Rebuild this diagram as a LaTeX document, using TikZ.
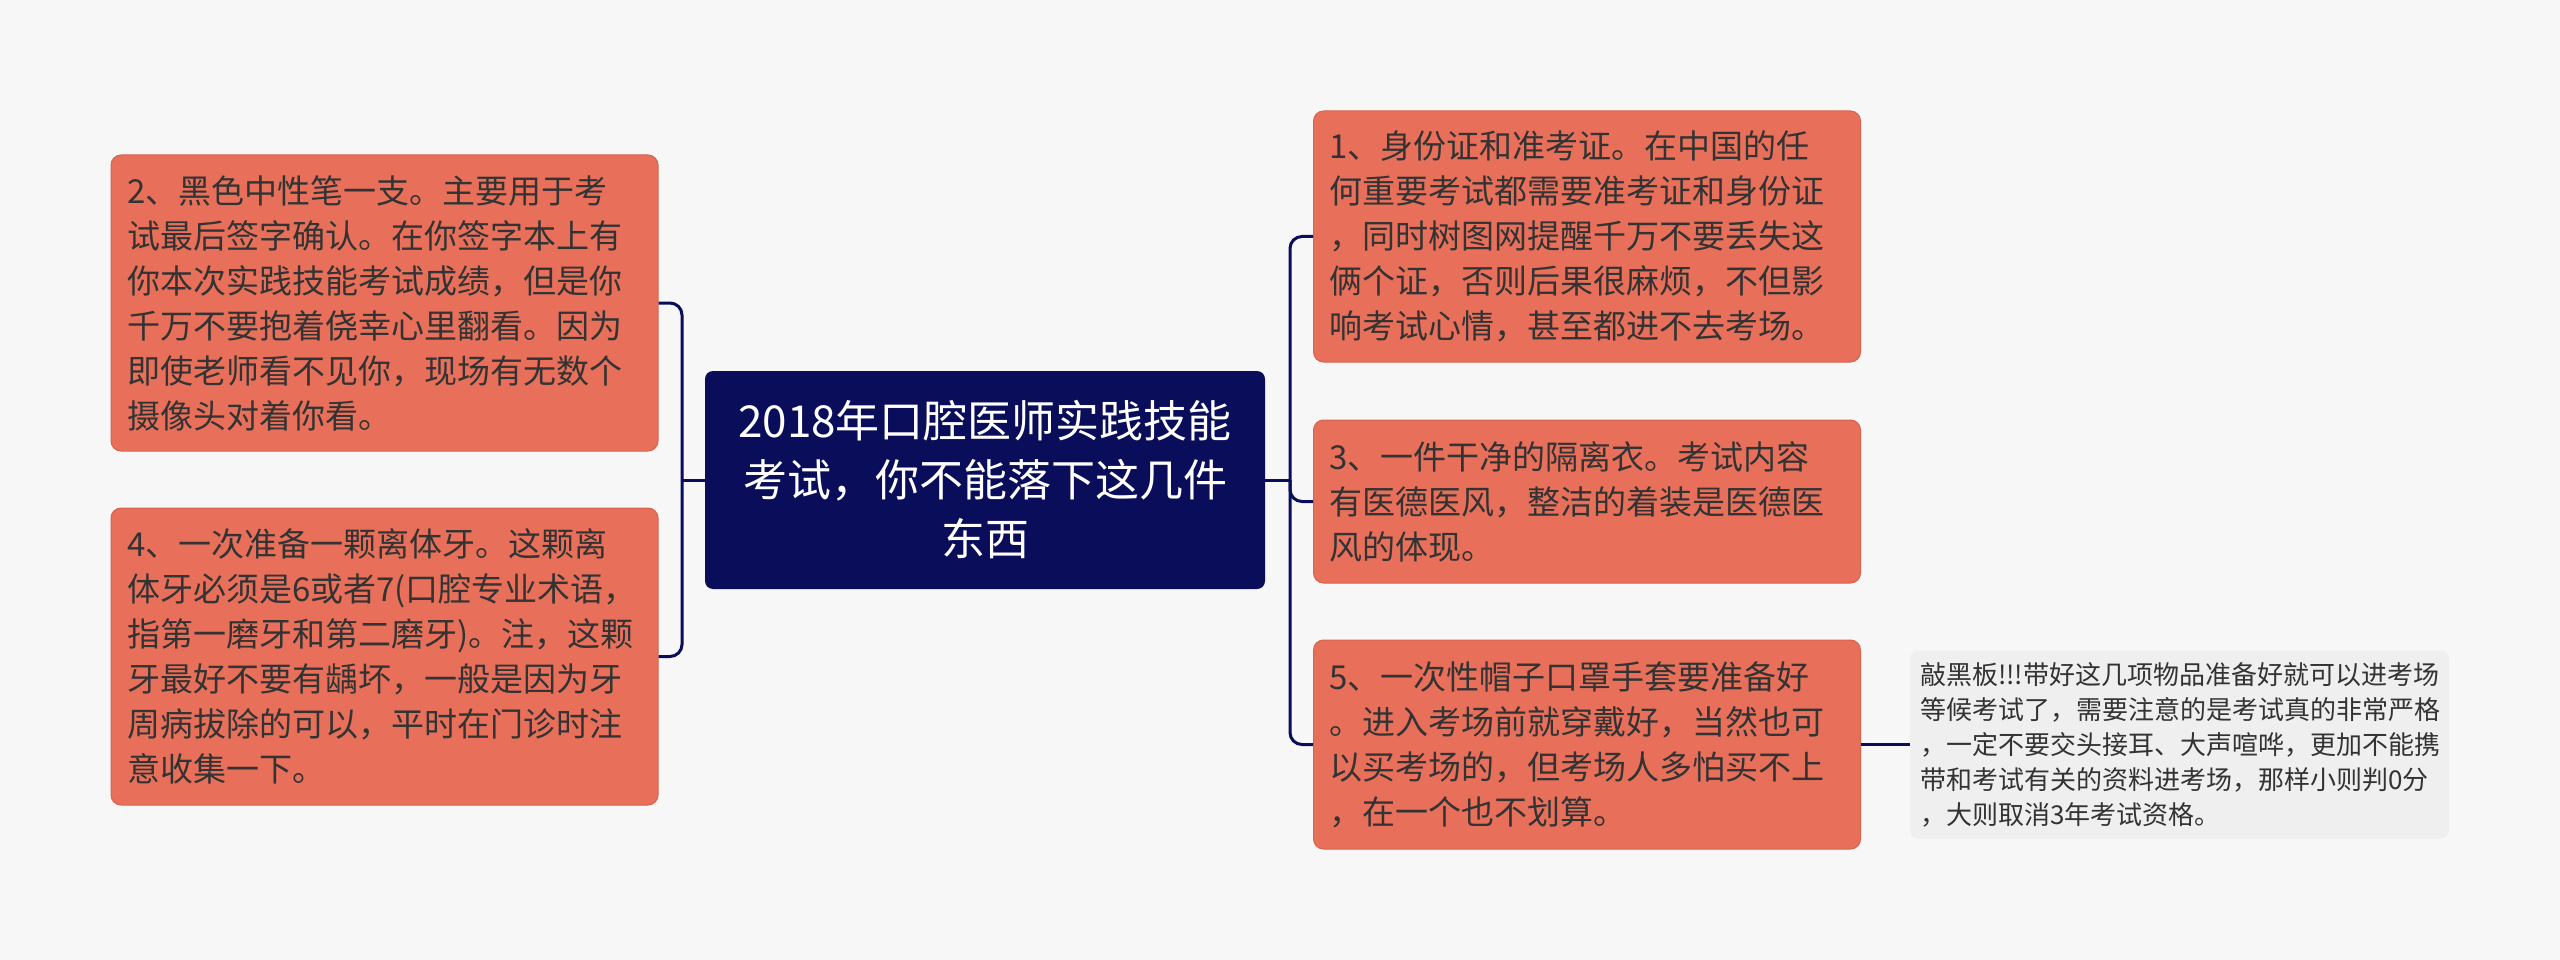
\documentclass[tikz,border=0pt]{standalone}
\usepackage{fontspec}
\setmainfont{Noto Sans CJK SC}
\usetikzlibrary{calc}
\definecolor{bg}{HTML}{F7F7F7}
\definecolor{orangebox}{HTML}{E8705B}
\definecolor{orangeline}{HTML}{D8624E}
\definecolor{navy}{HTML}{0A0D5A}
\definecolor{txt}{HTML}{333333}
\definecolor{notebg}{HTML}{EFEFEF}
\begin{document}
\begin{tikzpicture}[x=1pt,y=-1pt,
  topic/.style={draw=orangeline, line width=1pt, fill=orangebox, rounded corners=10pt,
    text=txt, align=left, inner xsep=16pt, inner ysep=0pt,
    font=\fontsize{33}{45}\selectfont, text width=515pt, minimum width=547pt},
  central/.style={fill=navy, rounded corners=8pt, text=white, align=center,
    inner xsep=16pt, inner ysep=0pt, font=\fontsize{44}{59}\selectfont,
    text width=528pt, minimum width=560pt, minimum height=218pt},
  notebox/.style={fill=notebg, rounded corners=8pt, text=txt, align=left,
    inner xsep=10pt, inner ysep=0pt, font=\fontsize{26}{35}\selectfont,
    text width=519pt, minimum width=539pt, minimum height=188pt},
  conn/.style={draw=navy, line width=3pt, rounded corners=12pt}]
\useasboundingbox (0,0) rectangle (2560,960);
\fill[bg] (0,0) rectangle (2560,960);

\node[central] (c) at (985,480) {2018年口腔医师实践技能\\考试，你不能落下这几件\\东西};

\node[topic, minimum height=296pt] (n2) at (384.5,303) {2、黑色中性笔一支。主要用于考\\
试最后签字确认。在你签字本上有\\
你本次实践技能考试成绩，但是你\\
千万不要抱着侥幸心里翻看。因为\\
即使老师看不见你，现场有无数个\\
摄像头对着你看。};

\node[topic, minimum height=297pt] (n4) at (384.5,656.5) {4、一次准备一颗离体牙。这颗离\\
体牙必须是6或者7(口腔专业术语，\\
指第一磨牙和第二磨牙)。注，这颗\\
牙最好不要有龋坏，一般是因为牙\\
周病拔除的可以，平时在门诊时注\\
意收集一下。};

\node[topic, minimum height=251pt] (n1) at (1587,236.5) {1、身份证和准考证。在中国的任\\
何重要考试都需要准考证和身份证\\
，同时树图网提醒千万不要丢失这\\
俩个证，否则后果很麻烦，不但影\\
响考试心情，甚至都进不去考场。};

\node[topic, minimum height=163pt] (n3) at (1587,501.5) {3、一件干净的隔离衣。考试内容\\
有医德医风，整洁的着装是医德医\\
风的体现。};

\node[topic, minimum height=209pt] (n5) at (1587,744.5) {5、一次性帽子口罩手套要准备好\\
。进入考场前就穿戴好，当然也可\\
以买考场的，但考场人多怕买不上\\
，在一个也不划算。};

\node[notebox] (note) at (2179.5,744.5) {敲黑板!!!带好这几项物品准备好就可以进考场\\
等候考试了，需要注意的是考试真的非常严格\\
，一定不要交头接耳、大声喧哗，更加不能携\\
带和考试有关的资料进考场，那样小则判0分\\
，大则取消3年考试资格。};

\coordinate (lb) at (682,480);
\coordinate (rb) at (1290,480);
\draw[conn] (c.west) -- (lb);
\draw[conn] (lb) |- (n2.east);
\draw[conn] (lb) |- (n4.east);
\draw[conn] (c.east) -- (rb);
\draw[conn] (rb) |- (n1.west);
\draw[conn] (rb) |- (n3.west);
\draw[conn] (rb) |- (n5.west);
\draw[conn] (n5.east) -- (n5.east -| note.west);
\end{tikzpicture}
\end{document}
